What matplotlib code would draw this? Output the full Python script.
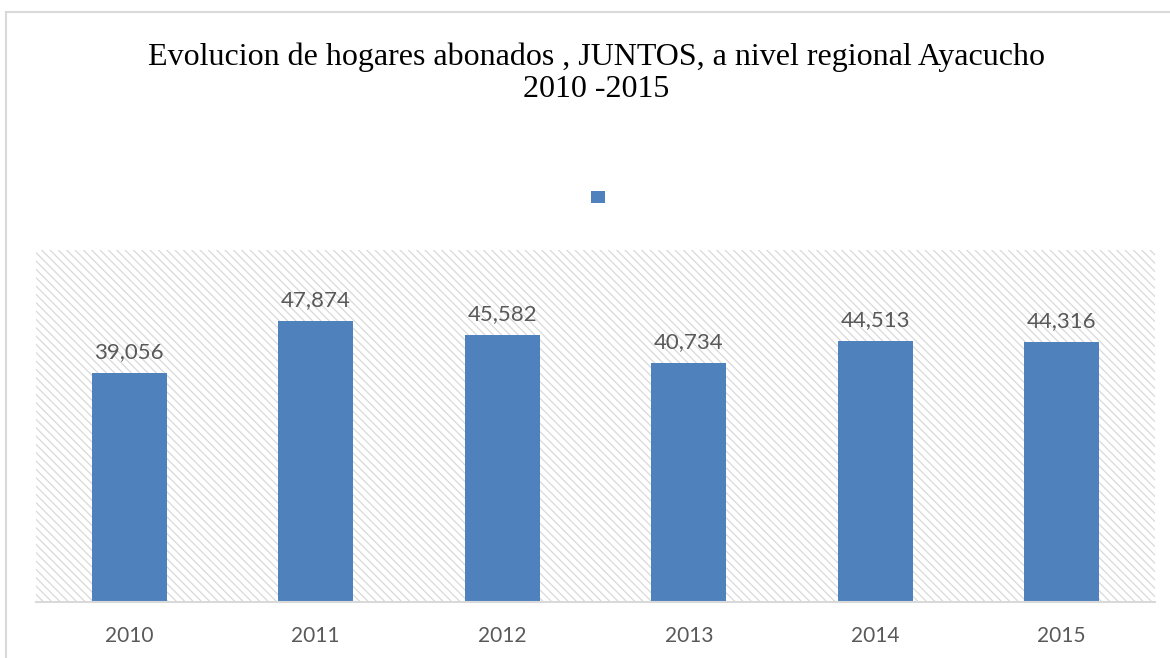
import matplotlib.pyplot as plt
from matplotlib.patches import Patch, Rectangle
from matplotlib.lines import Line2D

years = ["2010", "2011", "2012", "2013", "2014", "2015"]
hogares = [39056, 47874, 45582, 40734, 44513, 44316]

title = "Evolucion de hogares abonados , JUNTOS, a nivel regional Ayacucho\n2010 -2015"

bar_color = "#4f81bd"
text_gray = "#595959"
line_gray = "#d9d9d9"

plt.rcParams["hatch.color"] = "#cccccc"
plt.rcParams["hatch.linewidth"] = 0.9

fig = plt.figure(figsize=(11.7, 6.58), dpi=100)
ax = fig.add_axes([36 / 1170, 56 / 658, 1119 / 1170, 352 / 658])

# hatched plot area
ax.add_patch(Rectangle((0, 0), 1, 1, transform=ax.transAxes, facecolor="white",
                       edgecolor=line_gray, hatch="\\\\\\\\", linewidth=0, zorder=0))

x = list(range(len(years)))
bars = ax.bar(x, hogares, width=0.4, color=bar_color, zorder=2)

for xi, v in zip(x, hogares):
    ax.text(xi, v + 1800, f"{v:,}", ha="center", va="bottom", fontsize=16,
            color=text_gray, family="Lato")

ax.set_xlim(-0.5, 5.5)
ax.set_ylim(0, 60000)
ax.set_xticks(x)
ax.set_xticklabels(years, fontsize=15, color=text_gray, family="Lato")
ax.tick_params(axis="x", length=0, pad=17)
ax.set_yticks([])
for s in ["top", "left", "right"]:
    ax.spines[s].set_visible(False)
ax.spines["bottom"].set_color(line_gray)
ax.spines["bottom"].set_linewidth(1.5)
ax.spines["bottom"].set_zorder(3)

fig.text(596 / 1170, 1 - 73 / 658, title, ha="center", va="center", fontsize=23,
         family="Liberation Serif", color="black", linespacing=1.15)

# legend with empty label (as in original)
fig.legend(handles=[Patch(facecolor=bar_color)], labels=[""], loc="center",
           bbox_to_anchor=(598 / 1170, 1 - 198 / 658), frameon=False,
           handlelength=0.95, handleheight=0.95, handletextpad=0, fontsize=10)

# outer chart border (top and left visible)
fig.add_artist(Line2D([6 / 1170, 1], [1 - 12 / 658, 1 - 12 / 658],
                      transform=fig.transFigure, color=line_gray, linewidth=1.5))
fig.add_artist(Line2D([6 / 1170, 6 / 1170], [0, 1 - 12 / 658],
                      transform=fig.transFigure, color=line_gray, linewidth=1.5))

fig.savefig("out.png", dpi=100)
